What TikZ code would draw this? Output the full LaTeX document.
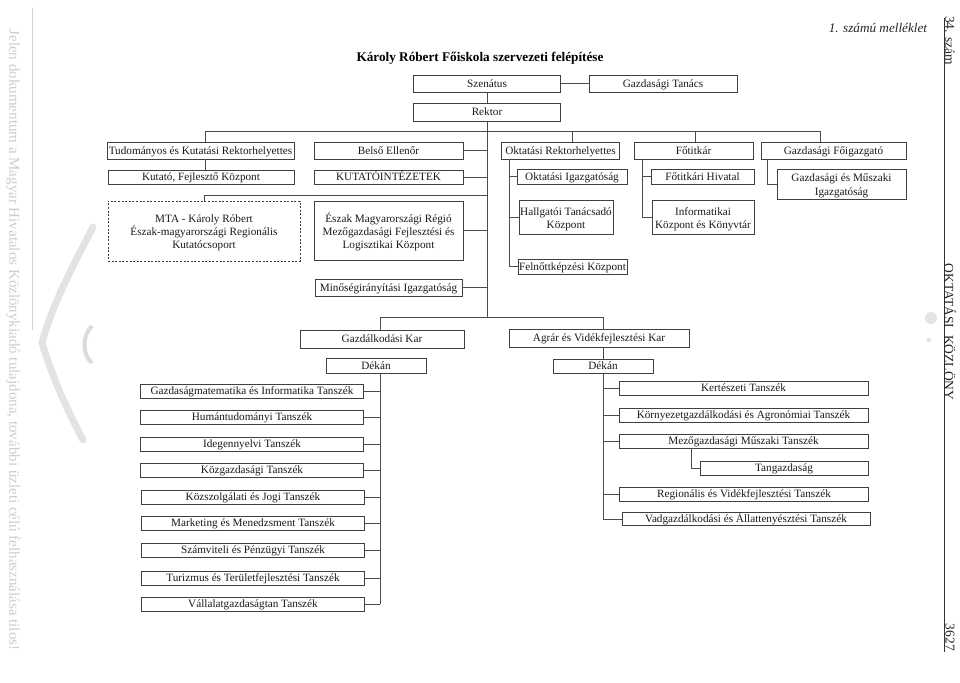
\documentclass[tikz,border=0pt]{standalone}
\usepackage{fontspec}
\setmainfont{Liberation Serif}
\newcommand{\dn}{\rule{0pt}{11.5pt}}
\begin{document}
\begin{tikzpicture}[x=1pt,y=-1pt,
  mbox/.style={draw=black!75, line width=0.7pt, inner sep=0pt, align=center,
    font=\fontsize{11.2}{13}\selectfont, text=black!90},
  box/.style={draw=black!75, line width=0.7pt, inner sep=0pt,
    font=\fontsize{11.2}{13}\selectfont, text=black!90, text height=8.6pt, text depth=1pt},
  dbox/.style={mbox, dash pattern=on 2pt off 1.6pt},
  link/.style={draw=black!70, line width=0.7pt},
  side/.style={font=\fontsize{13.5}{15}\selectfont, text=black!85, rotate=-90, inner sep=0pt},
  wm/.style={font=\fontsize{15}{17}\selectfont, text=black!20, rotate=-90, inner sep=0pt}]
\useasboundingbox (0,0) rectangle (960,682);

% watermark and page furniture
\node[wm] (wmtext) at (13,340) {Jelen dokumentum a Magyar Hivatalos Közlönykiadó tulajdona, további üzleti célú felhasználása tilos!};
\draw[black!18, line width=0.6pt] (32,8) -- (32,330);
\draw[black!11, line width=7pt, line cap=round] (93,227) .. controls (72,268) and (52,305) .. (42,343) .. controls (55,385) and (70,415) .. (83,440);
\draw[black!14, line width=4pt] (92,326) .. controls (82,335) and (82,355) .. (92,363);
\fill[black!11] (931,318) circle[radius=6];
\fill[black!10] (929,340) circle[radius=2.5];

\draw[black!80, line width=0.7pt] (944,18) -- (944,652);
\node[side, anchor=west] (szam) at (950,16) {34. szám};
\node[side] (kozlony) at (950,332) {OKTATÁSI\ \ KÖZLÖNY};
\node[side, anchor=east] (oldal) at (950,651) {3627};
\node[font=\fontsize{13.2}{15}\selectfont\itshape, text=black!85, inner sep=0pt] (mell) at (878,28) {1. számú melléklet};
\node[font=\fontsize{13.2}{15}\selectfont\bfseries, inner sep=0pt] (title) at (480,58) {Károly Róbert Főiskola szervezeti felépítése};

% top
\node[box, minimum width=147, minimum height=17] (szen) at (487,83.5) {Szenátus};
\node[box, minimum width=148, minimum height=17] (gt) at (663,83.5) {Gazdasági Tanács};
\node[box, minimum width=147, minimum height=18] (rektor) at (487,112) {Rektor};

% row 1
\node[box, minimum width=187, minimum height=17] (tud) at (200.5,150.5) {Tudományos és Kutatási Rektorhelyettes};
\node[box, minimum width=149, minimum height=17] (belso) at (388.5,150.5) {Belső Ellenőr};
\node[box, minimum width=118, minimum height=17] (oktrh) at (560.5,150.5) {Oktatási Rektorhelyettes};
\node[box, minimum width=119, minimum height=17] (fotitkar) at (693.5,150.5) {Főtitkár};
\node[box, minimum width=145, minimum height=17] (gfo) at (833.5,150.5) {Gazdasági Főigazgató};

% row 2
\node[box, minimum width=186, minimum height=14] (kutato) at (201,177) {Kutató, Fejlesztő Központ};
\node[box, minimum width=149, minimum height=14] (kutint) at (388.5,177) {KUTATÓINTÉZETEK};
\node[box, minimum width=110, minimum height=15] (oktig) at (572,176.5) {Oktatási Igazgatóság};
\node[box, minimum width=103, minimum height=15] (fthiv) at (702.5,176.5) {Főtitkári Hivatal};
\node[mbox, minimum width=129, minimum height=30, font=\fontsize{11.2}{14}\selectfont] (gmig) at (841.5,184) {\dn Gazdasági és Műszaki\\Igazgatóság};

\node[dbox, minimum width=192, minimum height=60] (mta) at (204,231) {\dn MTA - Károly Róbert\\Észak-magyarországi Regionális\\Kutatócsoport};
\node[mbox, minimum width=149, minimum height=59] (eszak) at (388.5,230.5) {\dn Észak Magyarországi Régió\\Mezőgazdasági Fejlesztési és\\Logisztikai Központ};
\node[mbox, minimum width=94, minimum height=34] (hallg) at (566,217) {\dn Hallgatói Tanácsadó\\Központ};
\node[mbox, minimum width=102, minimum height=34] (info) at (703,217) {\dn Informatikai\\Központ és Könyvtár};
\node[box, minimum width=109, minimum height=15] (felnott) at (572.5,266.5) {Felnőttképzési Központ};
\node[box, minimum width=147, minimum height=17] (minoseg) at (388.5,287.5) {Minőségirányítási Igazgatóság};

% faculties
\node[box, minimum width=164, minimum height=18] (gkar) at (382,339) {Gazdálkodási Kar};
\node[box, minimum width=100, minimum height=15] (gdekan) at (376,365.5) {Dékán};
\node[box, minimum width=180, minimum height=18] (akar) at (599,338) {Agrár és Vidékfejlesztési Kar};
\node[box, minimum width=100, minimum height=14] (adekan) at (603,366) {Dékán};

% left departments
\node[box, minimum width=223, minimum height=14] (d1) at (252,391) {Gazdaságmatematika és Informatika Tanszék};
\node[box, minimum width=223, minimum height=14] (d2) at (252,417) {Humántudományi Tanszék};
\node[box, minimum width=223, minimum height=14] (d3) at (252,444) {Idegennyelvi Tanszék};
\node[box, minimum width=223, minimum height=14] (d4) at (252,470) {Közgazdasági Tanszék};
\node[box, minimum width=223, minimum height=14] (d5) at (253,497) {Közszolgálati és Jogi Tanszék};
\node[box, minimum width=223, minimum height=14] (d6) at (253,523) {Marketing és Menedzsment Tanszék};
\node[box, minimum width=223, minimum height=14] (d7) at (253,550) {Számviteli és Pénzügyi Tanszék};
\node[box, minimum width=223, minimum height=14] (d8) at (253,578) {Turizmus és Területfejlesztési Tanszék};
\node[box, minimum width=223, minimum height=14] (d9) at (253,604) {Vállalatgazdaságtan Tanszék};

% right departments
\node[box, minimum width=249, minimum height=14] (kert) at (743.5,388) {Kertészeti Tanszék};
\node[box, minimum width=249, minimum height=14] (korny) at (743.5,415) {Környezetgazdálkodási és Agronómiai Tanszék};
\node[box, minimum width=249, minimum height=14] (mezo) at (743.5,441) {Mezőgazdasági Műszaki Tanszék};
\node[box, minimum width=168, minimum height=14] (tang) at (784,468) {Tangazdaság};
\node[box, minimum width=249, minimum height=14] (reg) at (744,494) {Regionális és Vidékfejlesztési Tanszék};
\node[box, minimum width=248, minimum height=13] (vad) at (746,519) {Vadgazdálkodási és Állattenyésztési Tanszék};

% helper coordinates
\coordinate (bL) at (205,131);
\coordinate (bT) at (487,131);
\coordinate (bO) at (572,131);
\coordinate (bF) at (695,131);
\coordinate (bG) at (820,131);
\coordinate (mtaj) at (487,195);
\coordinate (ok) at (509,159);
\coordinate (ft) at (642,159);
\coordinate (gf) at (767,159);
\coordinate (fbus) at (487,317);
\coordinate (fl) at (380,317);
\coordinate (fr) at (603,317);
\coordinate (tg) at (691,448);

% connectors
\draw[link] (szen.east) -- (gt.west);
\draw[link] (szen.south) -- (rektor.north);
\draw[link] (rektor.south) -- (fbus);
\draw[link] (bL) -- (bG);
\draw[link] (bL) -- (bL |- tud.north);
\draw[link] (bO) -- (bO |- oktrh.north);
\draw[link] (bF) -- (bF |- fotitkar.north);
\draw[link] (bG) -- (bG |- gfo.north);
\draw[link] (tud.south -| bL) -- (kutato.north -| bL);
\draw[link] (belso.east) -- (belso.east -| bT);
\draw[link] (kutint.east) -- (kutint.east -| bT);
\draw[link] (eszak.east) -- (eszak.east -| bT);
\draw[link] (minoseg.east) -- (minoseg.east -| bT);
\draw[link] (mtaj) -| (mta.north);
\draw[link] (ok) |- (felnott.west);
\draw[link] (ok |- oktig.west) -- (oktig.west);
\draw[link] (ok |- hallg.west) -- (hallg.west);
\draw[link] (ft) |- (info.west);
\draw[link] (ft |- fthiv.west) -- (fthiv.west);
\draw[link] (gf) |- (gmig.west);

\draw[link] (fl) -- (fr);
\draw[link] (fl) -- (fl |- gkar.north);
\draw[link] (fr) -- (fr |- akar.north);
\draw[link] (akar.south -| fr) -- (adekan.north -| fr);
\draw[link] (gdekan.south -| fl) -- (d9.east -| fl);
\foreach \d in {d1,d2,d3,d4,d5,d6,d7,d8,d9} \draw[link] (\d.east) -- (\d.east -| fl);
\draw[link] (adekan.south -| fr) -- (vad.west -| fr);
\foreach \d in {kert,korny,mezo,reg,vad} \draw[link] (\d.west) -- (\d.west -| fr);
\draw[link] (tg) |- (tang.west);
\end{tikzpicture}
\end{document}
